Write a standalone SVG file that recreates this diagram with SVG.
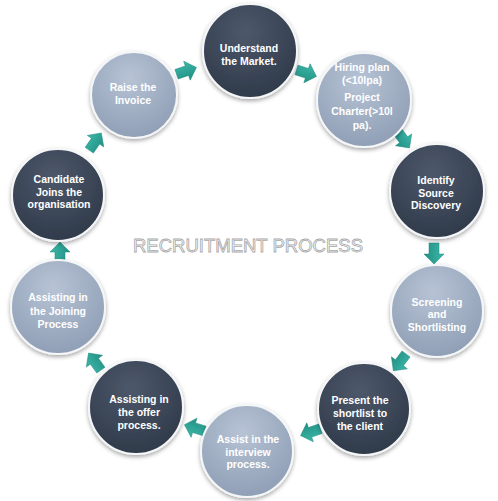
<svg xmlns="http://www.w3.org/2000/svg" width="498" height="501" viewBox="0 0 498 501">
<defs>
  <radialGradient id="gDark" cx="0.45" cy="0.3" r="0.8">
    <stop offset="0" stop-color="#4d586a"/>
    <stop offset="1" stop-color="#2c3646"/>
  </radialGradient>
  <radialGradient id="gLight" cx="0.45" cy="0.3" r="0.8">
    <stop offset="0" stop-color="#b7c3d5"/>
    <stop offset="1" stop-color="#8a9ab1"/>
  </radialGradient>
  <linearGradient id="gArrow" x1="0" y1="0" x2="0" y2="1">
    <stop offset="0" stop-color="#3cb8aa"/>
    <stop offset="1" stop-color="#218f82"/>
  </linearGradient>
  <filter id="sh" x="-20%" y="-20%" width="140%" height="140%">
    <feDropShadow dx="0" dy="2" stdDeviation="2" flood-color="#000" flood-opacity="0.35"/>
  </filter>
  <path id="arr" d="M-10,-5 L1,-5 L1,-10 L11,0 L1,10 L1,5 L-10,5 Z"/>
</defs>
<style>
  .dark { fill: url(#gDark); stroke: #f4f6f8; stroke-width: 2; filter: url(#sh); }
  .light { fill: url(#gLight); stroke: #f4f6f8; stroke-width: 2; filter: url(#sh); }
  .t { font-family: "Liberation Sans", Arial, sans-serif; font-size: 10.5px; font-weight: bold; fill: #ffffff; text-anchor: middle; }
  .a { fill: url(#gArrow); stroke: #1f8a7e; stroke-width: 0.5; }
  .title { font-family: "Liberation Sans", Arial, sans-serif; font-size: 18px; fill: #ffffff; stroke: #a8a8a8; stroke-width: 0.8; text-anchor: middle; }
</style>
<rect width="498" height="501" fill="#ffffff"/>

<g id="connectors">
  <use href="#arr" class="a" transform="translate(186,71) rotate(-19)"/>
  <use href="#arr" class="a" transform="translate(306,73) rotate(18)"/>
  <use href="#arr" class="a" transform="translate(403,139) rotate(54)"/>
  <use href="#arr" class="a" transform="translate(434,253) rotate(90)"/>
  <use href="#arr" class="a" transform="translate(400,362) rotate(127)"/>
  <use href="#arr" class="a" transform="translate(311,432) rotate(161)"/>
  <use href="#arr" class="a" transform="translate(195,428) rotate(197)"/>
  <use href="#arr" class="a" transform="translate(95,362) rotate(234)"/>
  <use href="#arr" class="a" transform="translate(60,253) rotate(-90)"/>
  <use href="#arr" class="a" transform="translate(95,142) rotate(-55)"/>
</g>

<g id="title">
  <text class="title" x="248" y="252" textLength="230" lengthAdjust="spacingAndGlyphs">RECRUITMENT PROCESS</text>
</g>

<g id="n1">
  <circle class="dark" cx="250" cy="51" r="47"/>
  <text class="t" x="249" y="52">Understand</text>
  <text class="t" x="249" y="65">the Market.</text>
</g>
<g id="n2">
  <circle class="light" cx="364" cy="100" r="47"/>
  <text class="t" x="362" y="71">Hiring plan</text>
  <text class="t" x="362" y="84">(&lt;10lpa)</text>
  <text class="t" x="362" y="101">Project</text>
  <text class="t" x="362" y="115">Charter(&gt;10l</text>
  <text class="t" x="362" y="129">pa).</text>
</g>
<g id="n3">
  <circle class="dark" cx="437" cy="191" r="47"/>
  <text class="t" x="436" y="184">Identify</text>
  <text class="t" x="436" y="197">Source</text>
  <text class="t" x="436" y="209">Discovery</text>
</g>
<g id="n4">
  <circle class="light" cx="437" cy="311" r="46"/>
  <text class="t" x="437" y="306">Screening</text>
  <text class="t" x="437" y="318">and</text>
  <text class="t" x="437" y="331">Shortlisting</text>
</g>
<g id="n5">
  <circle class="dark" cx="364" cy="409" r="46"/>
  <text class="t" x="360" y="404">Present the</text>
  <text class="t" x="360" y="417">shortlist to</text>
  <text class="t" x="360" y="430">the client</text>
</g>
<g id="n6">
  <circle class="light" cx="247" cy="451" r="46"/>
  <text class="t" x="248" y="443">Assist in the</text>
  <text class="t" x="248" y="456">interview</text>
  <text class="t" x="248" y="468">process.</text>
</g>
<g id="n7">
  <circle class="dark" cx="136" cy="407" r="47"/>
  <text class="t" x="139" y="403">Assisting in</text>
  <text class="t" x="139" y="416">the offer</text>
  <text class="t" x="139" y="429">process.</text>
</g>
<g id="n8">
  <circle class="light" cx="58" cy="307" r="47"/>
  <text class="t" x="58" y="301">Assisting in</text>
  <text class="t" x="58" y="315">the Joining</text>
  <text class="t" x="58" y="328">Process</text>
</g>
<g id="n9">
  <circle class="dark" cx="58" cy="195" r="46"/>
  <text class="t" x="59" y="183">Candidate</text>
  <text class="t" x="59" y="196">Joins the</text>
  <text class="t" x="59" y="208">organisation</text>
</g>
<g id="n10">
  <circle class="light" cx="134" cy="95" r="43"/>
  <text class="t" x="133" y="91">Raise the</text>
  <text class="t" x="133" y="104">Invoice</text>
</g>
</svg>
